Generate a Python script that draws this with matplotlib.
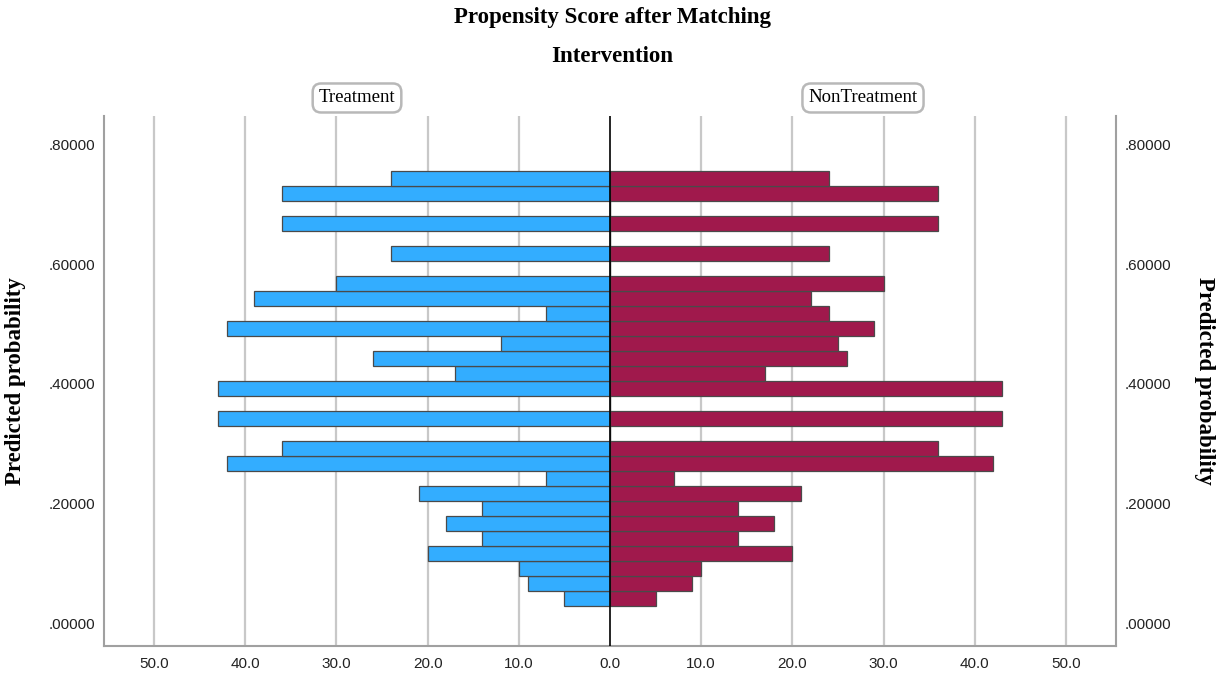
import matplotlib
matplotlib.use("Agg")
import matplotlib.pyplot as plt
from matplotlib.ticker import FuncFormatter, FixedLocator

# Propensity score bins (midpoints of 0.025-wide bins)
score_bins = [0.0425, 0.0675, 0.0925, 0.1175, 0.1425, 0.1675, 0.1925, 0.2175,
              0.2425, 0.2675, 0.2925, 0.3175, 0.3425, 0.3675, 0.3925, 0.4175,
              0.4425, 0.4675, 0.4925, 0.5175, 0.5425, 0.5675, 0.5925, 0.6175,
              0.6425, 0.6675, 0.6925, 0.7175, 0.7425]

# Counts per bin for each group
treatment = [5, 9, 10, 20, 14, 18, 14, 21, 7, 42, 36, 0, 43, 0, 43, 17,
             26, 12, 42, 7, 39, 30, 0, 24, 0, 36, 0, 36, 24]
non_treatment = [5, 9, 10, 20, 14, 18, 14, 21, 7, 42, 36, 0, 43, 0, 43, 17,
                 26, 25, 29, 24, 22, 30, 0, 24, 0, 36, 0, 36, 24]

group_labels = ["Treatment", "NonTreatment"]
x_ticks = [-50, -40, -30, -20, -10, 0, 10, 20, 30, 40, 50]
y_ticks = [0.0, 0.2, 0.4, 0.6, 0.8]

blue = "#33adff"
maroon = "#a0194c"
edge = "#4a4a4a"
grid_c = "#c8c8c8"
spine_c = "#a0a0a0"

serif = ["Liberation Serif", "DejaVu Serif"]
sans = ["Liberation Sans", "DejaVu Sans"]

fig = plt.figure(figsize=(12.25, 6.77), dpi=100)
ax = fig.add_axes([104 / 1225, 1 - 646 / 677, (1116 - 104) / 1225, (646 - 116) / 677])

bin_h = 0.025
ax.barh(score_bins, [-v for v in treatment], height=bin_h, color=blue,
        edgecolor=edge, linewidth=0.9, zorder=3)
ax.barh(score_bins, non_treatment, height=bin_h, color=maroon,
        edgecolor=edge, linewidth=0.9, zorder=3)

ax.set_xlim(-55.5, 55.5)
ax.set_ylim(-0.037, 0.847)

# vertical gridlines and zero line
for xv in x_ticks:
    if xv == 0:
        ax.axvline(0, color="black", lw=1.2, zorder=4)
    else:
        ax.axvline(xv, color=grid_c, lw=1.6, zorder=1)

ax.xaxis.set_major_locator(FixedLocator(x_ticks))
ax.xaxis.set_major_formatter(FuncFormatter(lambda v, p: f"{abs(v):.1f}"))
ax.yaxis.set_major_locator(FixedLocator(y_ticks))
ax.yaxis.set_major_formatter(FuncFormatter(lambda v, p: f"{v:.5f}".lstrip("0")))
ax.tick_params(axis="both", length=0, labelsize=11, colors="#222222")
ax.tick_params(axis="x", pad=8)
ax.tick_params(axis="y", pad=6.5, labelright=True, labelleft=True)
for lab in ax.get_xticklabels() + ax.get_yticklabels():
    lab.set_family(sans)

for s in ["left", "right", "bottom"]:
    ax.spines[s].set_color(spine_c)
    ax.spines[s].set_linewidth(1.5)
ax.spines["top"].set_visible(False)

# group labels in rounded boxes
for label, xc in zip(group_labels, [-27.75, 27.75]):
    ax.text(xc, 1.034, label, transform=ax.get_xaxis_transform(),
            ha="center", va="center", fontsize=13.5, family=serif,
            bbox=dict(boxstyle="round,pad=0.32,rounding_size=0.45",
                      fc="white", ec="#b8b8b8", lw=1.8))

fig.text(0.5, 1 - 18 / 677, "Propensity Score after Matching", ha="center",
         va="center", fontsize=16.5, fontweight="bold", family=serif)
fig.text(0.5, 1 - 56 / 677, "Intervention", ha="center", va="center",
         fontsize=16.5, fontweight="bold", family=serif)
fig.text(16 / 1225, 1 - 381 / 677, "Predicted probability", rotation=90,
         ha="center", va="center", fontsize=16.5, fontweight="bold", family=serif)
fig.text(1205 / 1225, 1 - 381 / 677, "Predicted probability", rotation=270,
         ha="center", va="center", fontsize=16.5, fontweight="bold", family=serif)

fig.savefig("out.png", dpi=100)
